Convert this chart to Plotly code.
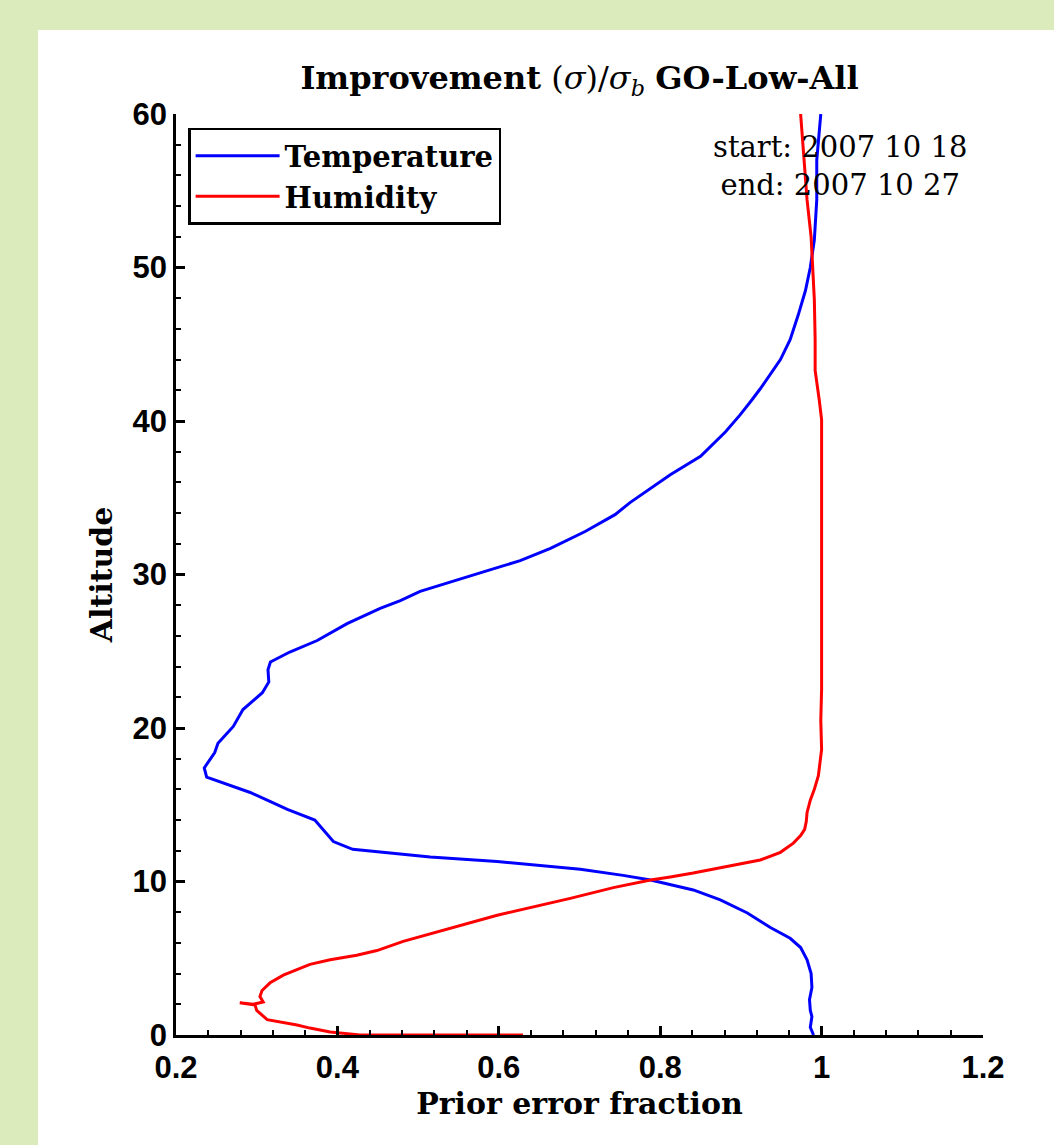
import plotly.graph_objects as go

# ---- data ----
temp_x = [0.999, 0.994, 0.994, 0.991, 0.986, 0.980, 0.971, 0.961, 0.949, 0.940,
          0.924, 0.914, 0.899, 0.881, 0.850, 0.8125, 0.7815, 0.763, 0.744, 0.707,
          0.664, 0.6265, 0.589, 0.546, 0.5025, 0.478, 0.453, 0.412, 0.375, 0.341,
          0.317, 0.314, 0.315, 0.307, 0.292, 0.283, 0.271, 0.252, 0.248, 0.235,
          0.238, 0.292, 0.313, 0.338, 0.372, 0.382, 0.395, 0.419, 0.515, 0.598,
          0.701, 0.754, 0.788, 0.841, 0.8745, 0.908, 0.9365, 0.961, 0.974, 0.982,
          0.987, 0.988, 0.985, 0.986, 0.988, 0.986, 0.990]
temp_alt = [60.0, 57.0, 54.4, 51.8, 50.0, 48.5, 46.9, 45.3, 44.0, 43.3,
            42.1, 41.4, 40.4, 39.3, 37.7, 36.5, 35.4, 34.7, 33.9, 32.8,
            31.7, 30.9, 30.3, 29.6, 28.9, 28.3, 27.8, 26.8, 25.7, 24.95,
            24.3, 23.8, 23.0, 22.3, 21.6, 21.2, 20.1, 19.0, 18.4, 17.4,
            16.8, 15.8, 15.3, 14.7, 14.0, 13.4, 12.6, 12.1, 11.6, 11.3,
            10.8, 10.4, 10.1, 9.45, 8.8, 7.95, 7.0, 6.3, 5.7, 4.9,
            4.0, 3.1, 2.3, 1.6, 1.2, 0.5, 0.0]

hum_x = [0.974, 0.977, 0.982, 0.987, 0.989, 0.991, 0.992, 0.992, 0.997, 1.000,
         1.000, 0.999, 1.000, 0.996, 0.991, 0.986, 0.982, 0.981, 0.979, 0.974,
         0.965, 0.949, 0.924, 0.896, 0.841, 0.8125, 0.788, 0.742, 0.6885, 0.598,
         0.524, 0.4815, 0.449, 0.424, 0.391, 0.366, 0.333, 0.3166, 0.3066, 0.304,
         0.308, 0.2955, 0.279, 0.298, 0.300, 0.308, 0.313, 0.350, 0.366, 0.391,
         0.412, 0.428, 0.630]
hum_alt = [60.0, 57.7, 54.4, 52.0, 50.0, 47.9, 45.3, 43.3, 41.4, 40.1,
           22.5, 20.5, 18.6, 16.9, 16.0, 15.3, 14.5, 13.9, 13.4, 13.0,
           12.5, 11.9, 11.4, 11.1, 10.55, 10.3, 10.1, 9.6, 8.9, 7.8,
           6.7, 6.1, 5.5, 5.2, 4.9, 4.6, 3.9, 3.4, 2.9, 2.5,
           2.15, 2.0, 2.1, 1.95, 1.6, 1.2, 1.0, 0.65, 0.45, 0.2,
           0.07, 0.0, 0.0]

series_names = ["Temperature", "Humidity"]
x_ticks = [0.2, 0.4, 0.6, 0.8, 1.0, 1.2]
x_ticklabels = ["0.2", "0.4", "0.6", "0.8", "1", "1.2"]
y_ticks = [0, 10, 20, 30, 40, 50, 60]

SERIF = "DejaVu Serif"
SANS = "Liberation Sans"

fig = go.Figure()
fig.add_trace(go.Scatter(x=temp_x, y=temp_alt, mode="lines", name=series_names[0],
                         line=dict(color="#0000ff", width=3)))
fig.add_trace(go.Scatter(x=hum_x, y=hum_alt, mode="lines", name=series_names[1],
                         line=dict(color="#ff0000", width=3)))

fig.update_layout(
    width=1054, height=1145, autosize=False,
    margin=dict(l=176, r=71, t=114, b=110),
    paper_bgcolor="#dcebbb", plot_bgcolor="white",
    title=dict(text="<b>Improvement</b> (<i>σ</i>)/<i>σ<sub>b</sub></i> <b>GO-Low-All</b>",
               x=0.5, xref="paper", xanchor="center",
               y=1 - 78 / 1145, yref="container", yanchor="middle",
               font=dict(family=SERIF, size=32, color="black")),
    showlegend=True,
    legend=dict(x=0.015, y=0.985, xanchor="left", yanchor="top",
                bgcolor="white", bordercolor="black", borderwidth=2.5,
                font=dict(family=SERIF, size=29, color="black", weight="bold"),
                itemwidth=84, tracegroupgap=0),
    shapes=[dict(type="rect", xref="paper", yref="paper",
                 x0=(38 - 176) / 807, x1=(1054 - 176) / 807,
                 y0=(1035 - 1145) / 921, y1=(1035 - 30) / 921,
                 fillcolor="white", line=dict(width=0), layer="below")],
    annotations=[dict(text="start: 2007 10 18<br>end: 2007 10 27",
                      xref="paper", yref="paper", x=(840 - 176) / 807, y=(1035 - 166) / 921,
                      xanchor="center", yanchor="middle", showarrow=False, align="center",
                      font=dict(family=SERIF, size=29, color="black"))],
)

fig.update_xaxes(range=[0.2, 1.2], tickvals=x_ticks, ticktext=x_ticklabels,
                 showline=True, linecolor="black", linewidth=2.5,
                 ticks="inside", ticklen=9, tickwidth=2.5, tickcolor="black",
                 minor=dict(dtick=0.04, tick0=0.2, ticks="inside", ticklen=5, tickwidth=2, tickcolor="black"),
                 showgrid=False, zeroline=False, ticklabelstandoff=3,
                 tickfont=dict(family=SANS, size=31, color="black", weight="bold"),
                 title=dict(text="Prior error fraction", standoff=10,
                            font=dict(family=SERIF, size=30, color="black", weight="bold")))
fig.update_yaxes(range=[0, 60], tickvals=y_ticks,
                 showline=True, linecolor="black", linewidth=2.5,
                 ticks="inside", ticklen=9, tickwidth=2.5, tickcolor="black",
                 minor=dict(dtick=2, tick0=0, ticks="inside", ticklen=5, tickwidth=2, tickcolor="black"),
                 showgrid=False, zeroline=False,
                 tickfont=dict(family=SANS, size=31, color="black", weight="bold"),
                 title=dict(text="Altitude", standoff=12,
                            font=dict(family=SERIF, size=30, color="black", weight="bold")))

fig.write_html("out.html", config={"displayModeBar": False},
               post_script="document.body.style.margin='0px';document.body.style.overflow='hidden';")
